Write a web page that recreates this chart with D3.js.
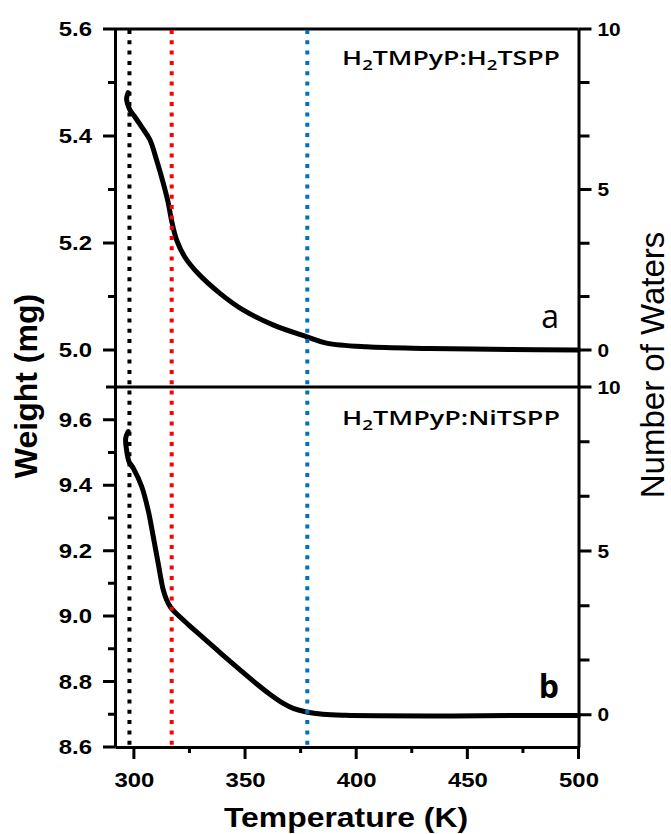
<!DOCTYPE html>
<html>
<head>
<meta charset="utf-8">
<script src="https://cdn.jsdelivr.net/npm/d3@7/dist/d3.min.js"></script>
<style>
body { margin: 0; background: #fff; }
text { fill: #000; }
</style>
</head>
<body>
<div id="chart"></div>
<script>
const
svgWidth = 671,
svgHeight = 834;

// panel a : H2TMPyP:H2TSPP
const tempA   = [297.4, 296.7, 298.2, 300.4, 303.5, 307.2, 310.2, 313.2, 315.4, 316.9, 319.2, 322.9, 328.9, 338.7, 349.1, 362.6, 377.6, 386.6, 404.6, 433.0, 470.0, 500.0];
const weightA = [5.481, 5.470, 5.449, 5.436, 5.417, 5.393, 5.355, 5.312, 5.276, 5.243, 5.206, 5.174, 5.143, 5.106, 5.075, 5.047, 5.025, 5.013, 5.006, 5.003, 5.001, 5.000];

// panel b : H2TMPyP:NiTSPP
const tempB   = [297.4, 296.3, 296.7, 297.8, 299.7, 303.5, 306.4, 308.7, 310.9, 313.2, 314.7, 316.5, 319.2, 325.0, 332.0, 340.0, 348.0, 355.0, 361.0, 367.0, 372.0, 377.6, 385.0, 395.0, 433.0, 470.0, 500.0];
const weightB = [9.564, 9.543, 9.508, 9.472, 9.452, 9.396, 9.324, 9.243, 9.162, 9.080, 9.050, 9.027, 9.007, 8.971, 8.929, 8.881, 8.834, 8.794, 8.762, 8.734, 8.717, 8.707, 8.700, 8.697, 8.695, 8.696, 8.696];

// dotted reference temperatures
const markTemps  = [298, 317, 378];
const markColors = ["#000000", "#ff0000", "#0070c0"];

// ticks
const xTicks      = [300, 350, 400, 450, 500];
const xMinor      = [325, 375, 425, 475];
const leftTicksA  = [5.0, 5.2, 5.4, 5.6];
const leftMinorA  = [5.1, 5.3, 5.5];
const leftTicksB  = [8.6, 8.8, 9.0, 9.2, 9.4, 9.6];
const leftMinorB  = [8.7, 8.9, 9.1, 9.3, 9.5];
const waterTicks  = [0, 5, 10];
const waterMinor  = [1.67, 3.33, 6.67, 8.33];

const labelA = [["H", 0], ["2", 1], ["TMPyP:H", 0], ["2", 1], ["TSPP", 0]];
const labelB = [["H", 0], ["2", 1], ["TMPyP:NiTSPP", 0]];

const plotLeft = 115, plotRight = 578.5, plotTop = 29, plotMid = 387, plotBottom = 747;
const axisFont = "'Liberation Sans', Arial, sans-serif";
const labelFont = "'Open Sans', 'Noto Sans', sans-serif";

const svg = d3.select("#chart")
.append("svg")
.attr("width", svgWidth)
.attr("height", svgHeight);

const x = d3.scaleLinear()
.domain([291.5, 500])
.range([plotLeft, plotRight]);

// stretch text horizontally a bit, the source figure is slightly widened
function widen(sel, k) {
sel.each(function() {
    const w = this.getComputedTextLength();
    d3.select(this)
    .attr("textLength", w * k)
    .attr("lengthAdjust", "spacingAndGlyphs");
});
}

function styleAxis(g, size) {
g.selectAll(".tick line").remove();
g.selectAll("path.domain").attr("stroke", "#000").attr("stroke-width", 3);
g.selectAll("text")
    .style("font-family", axisFont)
    .style("font-weight", "bold")
    .style("font-size", size + "px")
    .attr("fill", "#000");
}

// tick marks as one path each, len is signed (outward direction)
function vTicks(vals, scale, xPos, len) {
svg.append("path")
    .attr("d", vals.map(d => `M${xPos},${scale(d)}h${len}`).join(""))
    .attr("fill", "none")
    .style("stroke", "#000")
    .style("stroke-width", "3px");
}

function hTicks(vals, scale, yPos, len) {
svg.append("path")
    .attr("d", vals.map(d => `M${scale(d)},${yPos}v${len}`).join(""))
    .attr("fill", "none")
    .style("stroke", "#000")
    .style("stroke-width", "3px");
}

const panels = [
{temps: tempA, weights: weightA, wDomain: [4.931, 5.6], nDomain: [-1.15, 10],
 top: plotTop, bottom: plotMid, major: leftTicksA, minor: leftMinorA,
 label: labelA, labelY: 65, letter: "a", letterY: 328, letterBold: false},
{temps: tempB, weights: weightB, wDomain: [8.6, 9.7], nDomain: [-0.98, 10],
 top: plotMid, bottom: plotBottom, major: leftTicksB, minor: leftMinorB,
 label: labelB, labelY: 425, letter: "b", letterY: 698, letterBold: true}
];

const line = d3.line().curve(d3.curveCatmullRom.alpha(0.5));

panels.forEach(function(p) {
const y = d3.scaleLinear().domain(p.wDomain).range([p.bottom, p.top]);
const yr = d3.scaleLinear().domain(p.nDomain).range([p.bottom, p.top]);

// left weight axis
const leftG = svg.append("g")
    .attr("transform", `translate(${plotLeft},0)`)
    .call(d3.axisLeft(y).tickValues(p.major).tickFormat(d3.format(".1f"))
        .tickSize(0).tickPadding(23));
styleAxis(leftG, 21);
widen(leftG.selectAll("text"), 1.14);
vTicks(p.major, y, plotLeft, -12);
vTicks(p.minor, y, plotLeft, -7);

// right number-of-waters axis
const rightG = svg.append("g")
    .attr("transform", `translate(${plotRight},0)`)
    .call(d3.axisRight(yr).tickValues(waterTicks).tickFormat(d3.format("d"))
        .tickSize(0).tickPadding(19));
styleAxis(rightG, 19);
widen(rightG.selectAll("text"), 1.1);
vTicks(waterTicks, yr, plotRight, 13);
vTicks(waterMinor, yr, plotRight, 11);

// TGA curve
const pts = p.temps.map((t, i) => [x(t), y(p.weights[i])]);
svg.append("path")
    .attr("d", line(pts))
    .attr("fill", "none")
    .attr("stroke", "#000")
    .attr("stroke-width", 5)
    .attr("stroke-linejoin", "round")
    .attr("stroke-linecap", "round");

// sample label with subscripts
const lab = svg.append("text")
    .attr("text-anchor", "end")
    .style("font-family", labelFont)
    .style("font-weight", 600)
    .style("font-size", "20px");
let shifted = false;
p.label.forEach(function(part) {
    const ts = lab.append("tspan").text(part[0]);
    if (part[1] === 1) {
        ts.attr("dy", 5).style("font-size", "14px");
        shifted = true;
    } else if (shifted) {
        ts.attr("dy", -5);
        shifted = false;
    }
});
const bw = lab.node().getBBox().width;
lab.attr("transform", `translate(560,${p.labelY}) scale(${218 / bw},1)`);

// panel letter
svg.append("text")
    .attr("x", 559)
    .attr("y", p.letterY)
    .attr("text-anchor", "end")
    .style("font-family", labelFont)
    .style("font-weight", p.letterBold ? "bold" : "normal")
    .style("font-size", "32px")
    .text(p.letter);
});

// frame: top edge and panel divider
svg.append("line")
.attr("x1", plotLeft).attr("x2", plotRight)
.attr("y1", plotTop).attr("y2", plotTop)
.attr("stroke", "#000").attr("stroke-width", 3);
svg.append("line")
.attr("x1", plotLeft - 9).attr("x2", plotRight)
.attr("y1", plotMid).attr("y2", plotMid)
.attr("stroke", "#000").attr("stroke-width", 3);

// bottom temperature axis
const xAxisG = svg.append("g")
.attr("transform", `translate(0,${plotBottom})`)
.call(d3.axisBottom(x).tickValues(xTicks).tickFormat(d3.format("d"))
    .tickSize(0).tickPadding(25));
styleAxis(xAxisG, 21);
widen(xAxisG.selectAll("text"), 1.14);
hTicks(xTicks, x, plotBottom, 12);
hTicks(xMinor, x, plotBottom, 6);

// dotted markers across both panels
svg.selectAll("line.mark")
.data(markTemps)
.enter()
.append("line")
.attr("class", "mark")
.attr("x1", d => x(d)).attr("x2", d => x(d))
.attr("y1", plotTop + 1).attr("y2", plotBottom - 1)
.attr("stroke", (d, i) => markColors[i])
.attr("stroke-width", 4)
.attr("stroke-dasharray", "4 6.3");

// axis titles
const xTitle = svg.append("text")
.attr("x", 346)
.attr("y", 827)
.attr("text-anchor", "middle")
.style("font-family", axisFont)
.style("font-weight", "bold")
.style("font-size", "28px")
.text("Temperature (K)");
widen(xTitle, 1.14);

svg.append("text")
.attr("transform", "translate(37,386) rotate(-90)")
.attr("text-anchor", "middle")
.style("font-family", axisFont)
.style("font-weight", "bold")
.style("font-size", "32px")
.text("Weight (mg)");

svg.append("text")
.attr("transform", "translate(664,365) rotate(-90)")
.attr("text-anchor", "middle")
.style("font-family", axisFont)
.style("font-size", "33px")
.text("Number of Waters");
</script>
</body>
</html>
